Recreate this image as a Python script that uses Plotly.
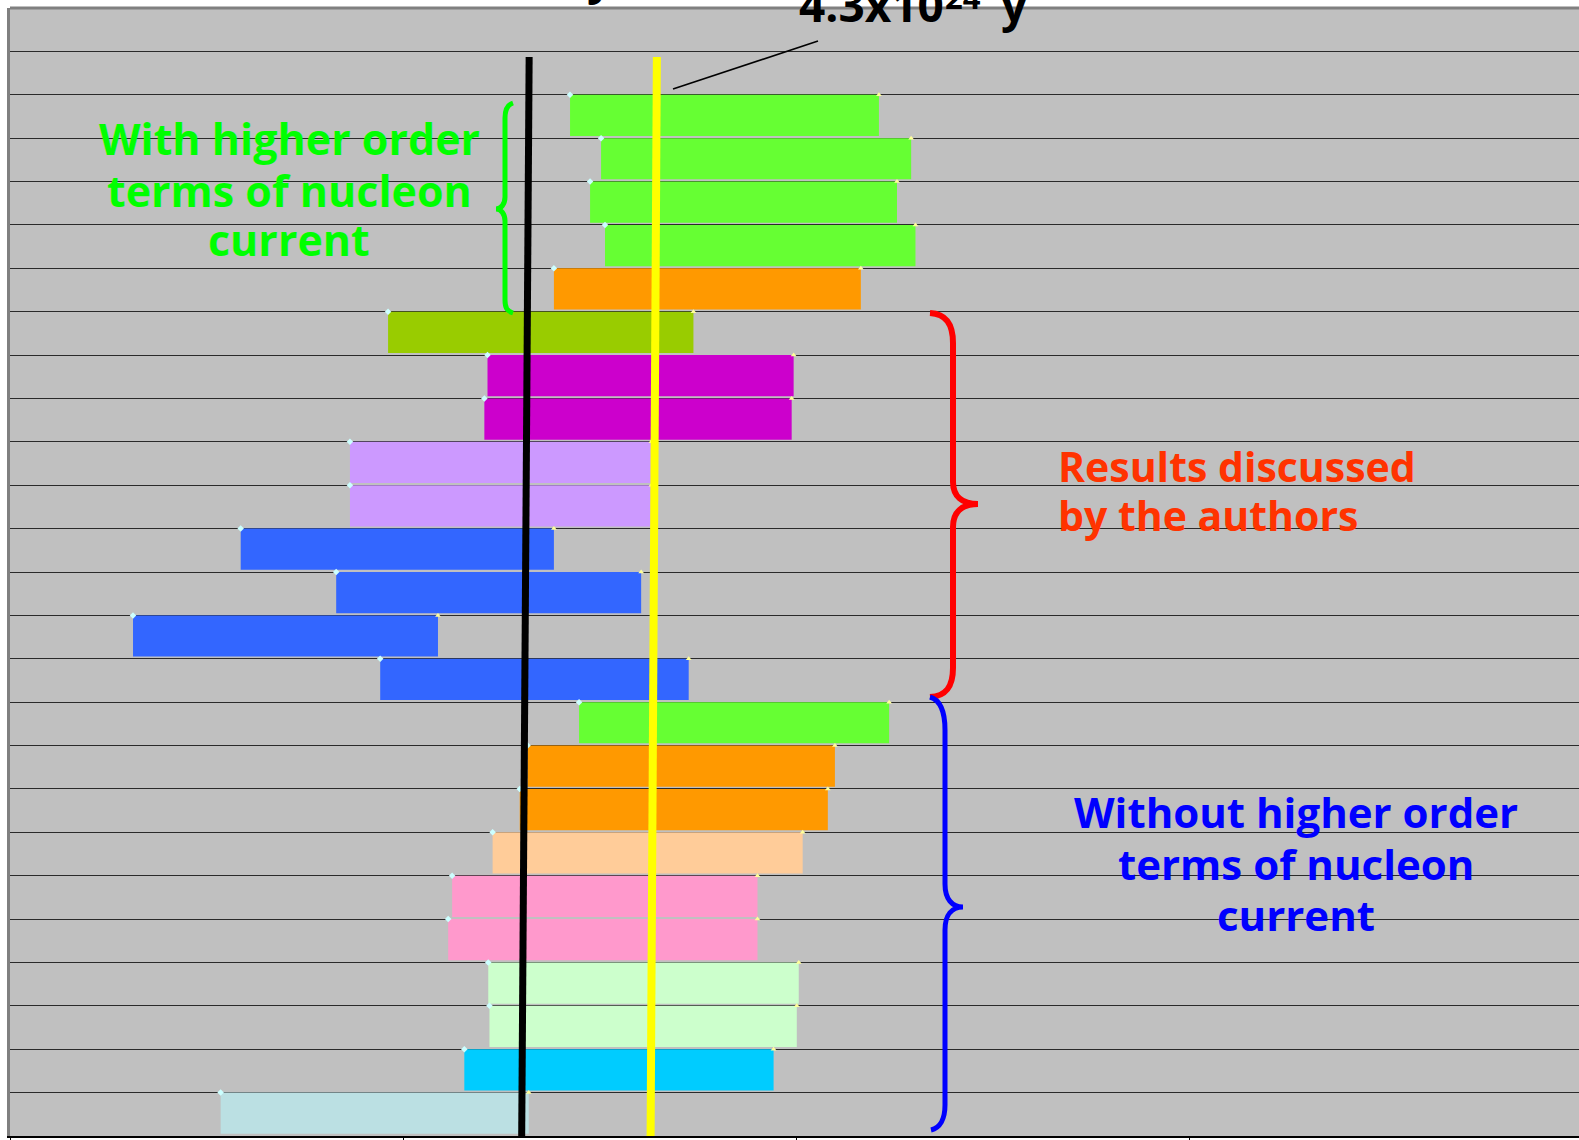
import plotly.graph_objects as go

# ---------------- data (log10 of half-life in years) ----------------
row_index = list(range(3, 27))  # 1-based row position from top (rows 1-2 empty)
log_t_low = [24.425, 24.504, 24.476, 24.514, 24.384,
             23.962, 24.215, 24.207, 23.865, 23.865,
             23.587, 23.830, 23.313, 23.942,
             24.448, 24.317, 24.297, 24.228, 24.125, 24.115,
             24.217, 24.220, 24.156, 23.536]
log_t_high = [25.211, 25.293, 25.257, 25.304, 25.165,
              24.739, 24.994, 24.989, 24.632, 24.632,
              24.384, 24.606, 24.089, 24.727,
              25.237, 25.099, 25.081, 25.017, 24.902, 24.902,
              25.007, 25.002, 24.943, 24.320]
bar_colors = ["#66FF33", "#66FF33", "#66FF33", "#66FF33", "#FF9900",
              "#99CC00", "#CC00CC", "#CC00CC", "#CC99FF", "#CC99FF",
              "#3366FF", "#3366FF", "#3366FF", "#3366FF",
              "#66FF33", "#FF9900", "#FF9900", "#FFCC99", "#FF99CC", "#FF99CC",
              "#CCFFCC", "#CCFFCC", "#00CCFF", "#BBE0E3"]

limit_mantissa = ["2.1x10", "4.3x10"]
limit_exponent = ["24", "24"]
limit_unit = ["y", "y"]
limit_log_top = [24.321, 24.646]
limit_log_bottom = [24.302, 24.630]
limit_row_top = [1.13, 1.13]
limit_colors = ["#000000", "#FFFF00"]

axis_marks_log = [24.302, 24.630, 26.06, 26.965]

# ---------------- layout geometry ----------------
W, H = 1579, 1140
ML, MR, MT, MB = 10, 0, 8, 4
PW, PH = W - ML - MR, H - MT - MB
PX_PER_DECADE = 393.0
X0 = 23.0
N_ROWS = 26


def px(x):
    return (x - ML) / PW


def py(y):
    return 1 - (y - MT) / PH


def pt(x, y):
    return f"{px(x):.5f},{py(y):.5f}"


fig = go.Figure()

# bars
fig.add_trace(go.Bar(
    orientation="h",
    y=[r - 0.5 for r in row_index],
    x=[h - l for l, h in zip(log_t_low, log_t_high)],
    base=log_t_low,
    width=0.95, offset=-0.5,
    marker=dict(color=bar_colors, line=dict(width=0)),
    showlegend=False, hoverinfo="skip",
))

# end markers of the bars
fig.add_trace(go.Scatter(
    x=log_t_low, y=[r - 1 for r in row_index], mode="markers",
    marker=dict(symbol="diamond", size=5, color="#CCFFFF"),
    showlegend=False, hoverinfo="skip"))
fig.add_trace(go.Scatter(
    x=log_t_high, y=[r - 1 for r in row_index], mode="markers",
    marker=dict(symbol="triangle-up", size=5, color="#FFFF99"),
    showlegend=False, hoverinfo="skip"))

# limit lines
for lt, lb, yt, c, w in zip(limit_log_top, limit_log_bottom, limit_row_top,
                            limit_colors, [7, 8]):
    fig.add_trace(go.Scatter(
        x=[lt, lb], y=[yt, N_ROWS], mode="lines",
        line=dict(color=c, width=w), showlegend=False, hoverinfo="skip"))

fig.add_trace(go.Scatter(
    x=axis_marks_log, y=[N_ROWS + 0.07] * len(axis_marks_log), mode="markers",
    marker=dict(symbol="triangle-up", size=6, color="#FF99CC"),
    cliponaxis=False, showlegend=False, hoverinfo="skip"))

FONT = "Comic Sans MS, Open Sans, sans-serif"
shapes = []
# top border
shapes.append(dict(type="line", xref="paper", yref="paper", x0=0, x1=1, y0=1, y1=1,
                   line=dict(color="#808080", width=3)))
# leader line to the label
shapes.append(dict(type="line", xref="paper", yref="paper",
                   x0=px(673), y0=py(89), x1=px(818), y1=py(41),
                   line=dict(color="#000000", width=1.6)))

# braces
green_brace = ("M " + pt(513, 103) + " C " + pt(507, 105) + " " + pt(505, 110) + " " + pt(505, 118) +
               " L " + pt(505, 197) + " C " + pt(505, 204) + " " + pt(501, 209) + " " + pt(496, 209) +
               " C " + pt(501, 209) + " " + pt(505, 214) + " " + pt(505, 221) +
               " L " + pt(505, 300) + " C " + pt(505, 308) + " " + pt(507, 311) + " " + pt(513, 313))
red_brace = ("M " + pt(930, 313) + " C " + pt(946, 314) + " " + pt(953, 324) + " " + pt(953, 343) +
             " L " + pt(953, 482) + " C " + pt(953, 496) + " " + pt(962, 504) + " " + pt(978, 504) +
             " C " + pt(962, 504) + " " + pt(953, 512) + " " + pt(953, 527) +
             " L " + pt(953, 668) + " C " + pt(953, 687) + " " + pt(946, 696) + " " + pt(930, 697))
blue_brace = ("M " + pt(930, 697) + " C " + pt(940, 700) + " " + pt(945, 712) + " " + pt(945, 730) +
              " L " + pt(945, 884) + " C " + pt(945, 899) + " " + pt(952, 907) + " " + pt(963, 907) +
              " C " + pt(952, 907) + " " + pt(945, 915) + " " + pt(945, 930) +
              " L " + pt(945, 1105) + " C " + pt(945, 1119) + " " + pt(940, 1128) + " " + pt(931, 1130))
for path, col, w in [(green_brace, "#00FF00", 5), (red_brace, "#FF0000", 6), (blue_brace, "#0000FF", 5)]:
    shapes.append(dict(type="path", xref="paper", yref="paper", path=path,
                       line=dict(color=col, width=w)))

annotations = []


def add_text(text, x, y, color, size=44, xanchor="center", yanchor="middle"):
    annotations.append(dict(text=f"<b>{text}</b>", x=px(x), y=py(y), xref="paper", yref="paper",
                            xanchor=xanchor, yanchor=yanchor, showarrow=False,
                            font=dict(family=FONT, size=size, color=color)))


# green group label
for t, yb in zip(["With higher order", "terms of nucleon", "current"], [155, 207, 257]):
    add_text(t, 289, yb - 17, "#00FF00", size=43)
# red group label
for t, yb in zip(["Results discussed", "by the authors"], [482, 531]):
    add_text(t, 1056, yb - 16, "#FF3300", size=41, xanchor="left")
# blue group label
for t, yb in zip(["Without higher order", "terms of nucleon", "current"], [828, 880, 931]):
    add_text(t, 1296, yb - 17, "#0000FF", size=42)

# limit labels (cut off at the top of the picture)
add_text(limit_mantissa[1], 797, 37, "#000000", size=46, xanchor="left", yanchor="bottom")
add_text(limit_exponent[1], 943, 20, "#000000", size=31, xanchor="left", yanchor="bottom")
add_text(limit_unit[1], 999, 37, "#000000", size=46, xanchor="left", yanchor="bottom")
add_text(limit_unit[0], 616, 9, "#000000", size=46, xanchor="right", yanchor="bottom")

fig.update_layout(
    width=W, height=H,
    margin=dict(l=ML, r=MR, t=MT, b=MB, pad=0),
    paper_bgcolor="white", plot_bgcolor="#C0C0C0",
    barmode="overlay",
    shapes=shapes, annotations=annotations,
    xaxis=dict(range=[X0, X0 + PW / PX_PER_DECADE], showgrid=False, zeroline=False,
               showline=True, linecolor="#000000", linewidth=2,
               ticks="outside", ticklen=4, tickcolor="#000000", tickwidth=1,
               tick0=23, dtick=1, showticklabels=False, fixedrange=True),
    yaxis=dict(range=[N_ROWS, 0], showgrid=True, gridcolor="#2a2a2a", gridwidth=1.4,
               tick0=0, dtick=1, zeroline=False, showticklabels=False, ticks="",
               showline=True, linecolor="#808080", linewidth=3, fixedrange=True),
)

fig.write_html("out.html", config={"displayModeBar": False},
               post_script="document.body.style.margin='0';document.body.style.overflow='hidden';")
